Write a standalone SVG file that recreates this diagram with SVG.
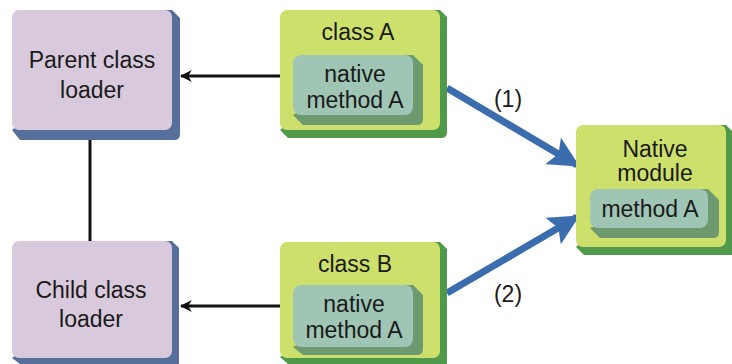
<svg xmlns="http://www.w3.org/2000/svg" width="732" height="364" viewBox="0 0 732 364">
<defs>
<style>
text{font-family:"Liberation Sans",Arial,sans-serif;font-size:23px;fill:#1a1a1a;text-anchor:middle}
.lbl{font-size:23px}
.lf{fill:#d8cadc}
.ls{fill:#56709b}
.gf{fill:#cde06c}
.gs{fill:#4f9a4a}
.tf{fill:#9fc5b5}
.ts{fill:#6e9a70}
.blk{stroke:#111;stroke-width:3;fill:none}
.blu{stroke:#3a6cae;stroke-width:7;fill:none}
</style>
<marker id="ah" viewBox="0 0 10 10" refX="9" refY="5" markerWidth="4" markerHeight="4" orient="auto" markerUnits="strokeWidth">
<path d="M0,0 L10,5 L0,10 L3,5 Z" fill="#111"/>
</marker>
<marker id="bh" viewBox="0 0 10 10" refX="9" refY="5" markerWidth="4.4" markerHeight="4.4" orient="auto" markerUnits="strokeWidth">
<path d="M0,0 L10,5 L0,10 L2,5 Z" fill="#3a6cae"/>
</marker>
</defs>
<g id="connectors">
<line class="blk" x1="90" y1="140" x2="90" y2="241"/>
<line class="blk" x1="280" y1="76" x2="181" y2="76" marker-end="url(#ah)"/>
<line class="blk" x1="280" y1="306" x2="181" y2="306" marker-end="url(#ah)"/>
<line class="blu" x1="447" y1="88" x2="577" y2="165" marker-end="url(#bh)"/>
<line class="blu" x1="447" y1="293" x2="577" y2="217" marker-end="url(#bh)"/>
<text class="lbl" x="508" y="107">(1)</text>
<text class="lbl" x="508" y="302">(2)</text>
</g>
<g id="parent">
<path class="ls" d="M160,10 L172,10 L180,18 L180,134 Q180,140 174,140 L20,140 L12,130 Z"/>
<rect class="lf" x="12" y="10" width="160" height="120" rx="7"/>
<text x="92" y="68">Parent class</text>
<text x="92" y="98">loader</text>
</g>
<g id="child">
<path class="ls" d="M160,241 L172,241 L179,248 L179,364 L20,364 L12,358 Z"/>
<rect class="lf" x="12" y="241" width="160" height="117" rx="7"/>
<text x="91" y="298">Child class</text>
<text x="91" y="327">loader</text>
</g>
<g id="classA">
<path class="gs" d="M428,10 L440,10 L447,17 L447,132 Q447,138 441,138 L288,138 L280,130 Z"/>
<rect class="gf" x="280" y="10" width="160" height="120" rx="7"/>
<text x="358" y="40">class A</text>
<path class="ts" d="M403,55 L413,55 L423,65 L423,119 Q423,125 417,125 L303,125 L293,115 Z"/>
<rect class="tf" x="293" y="55" width="120" height="60" rx="8"/>
<text x="355" y="82">native</text>
<text x="355" y="108">method A</text>
</g>
<g id="classB">
<path class="gs" d="M428,242 L440,242 L447,249 L447,364 L288,364 L280,357 Z"/>
<rect class="gf" x="280" y="242" width="160" height="116" rx="7"/>
<text x="355" y="272">class B</text>
<path class="ts" d="M403,285 L413,285 L423,295 L423,349 Q423,355 417,355 L303,355 L293,347 Z"/>
<rect class="tf" x="293" y="285" width="120" height="62" rx="8"/>
<text x="354" y="312">native</text>
<text x="354" y="338">method A</text>
</g>
<g id="native">
<path class="gs" d="M714,125 L726,125 L733,132 L733,255 L584,255 L576,247 Z"/>
<rect class="gf" x="576" y="125" width="150" height="122" rx="7"/>
<text x="655" y="157">Native</text>
<text x="655" y="181">module</text>
<path class="ts" d="M698,189 L708,189 L719,200 L719,232 Q719,238 713,238 L600,238 L590,228 Z"/>
<rect class="tf" x="590" y="189" width="118" height="39" rx="8"/>
<text x="650" y="217">method A</text>
</g>
</svg>
